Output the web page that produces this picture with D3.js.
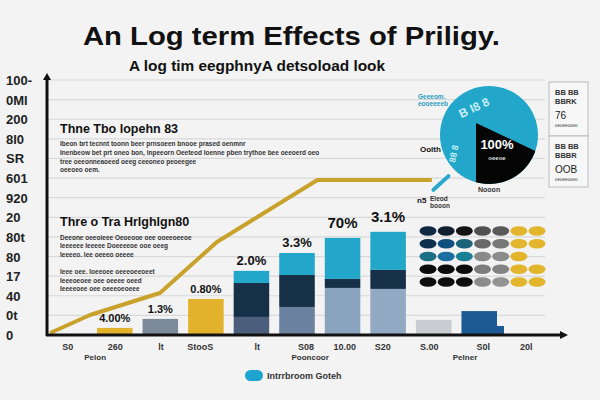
<!DOCTYPE html>
<html><head><meta charset="utf-8">
<script src="https://cdn.jsdelivr.net/npm/d3@7"></script>
<style>html,body{margin:0;padding:0;background:#f3f3f3;}svg{display:block;font-family:"Liberation Sans",Arial,sans-serif;}</style>
</head><body><svg id="c" width="600" height="400"></svg>
<script>
// ---------- data ----------
const title = "An Log term Effects of Priligy.";
const subtitle = "A log tim eegphnyA detsoload look";
const yTickLabels = ["0","0t","40","17","80","80t","20","920","601","SR","8l0","200","0Ml","100-"];
const categories = ["A","B","C","D","E","F","G","H","I"];
const segBase  = [0.36, 0.82, 1.84, 0.92, 1.43, 2.40, 2.35, 0.77, 1.22];
const segMid   = [0, 0, 0, 1.73, 1.63, 0.46, 0.97, 0, 0];
const segTop   = [0, 0, 0, 0.62, 1.12, 2.09, 1.94, 0, 0];
const barLabels = ["4.00%","1.3%","0.80%","2.0%","3.3%","70%","3.1%","",""];
const lineX = [0.6, 8.3, 21.8, 32.8, 52.2, 74.3];
const lineY = [0.1, 1.02, 2.14, 4.74, 7.9, 7.9];
const xTickLabels = ["S0","260","lt","Stoo","S","lt","S08","10.00","S20","S.00","S0l","20l"];
const xTickPos = [4, 13.2, 22, 29, 31.5, 40.6, 50, 57.5, 64.8, 73.8, 84.2, 92.5];
const xGroupLabels = ["Pelon","Pooncoor","Pelner"];
const xGroupPos = [9.3, 50.8, 80.7];
const pieValues = [82, 18];
const pieLabels = ["Oolth","Nooon"];
const dotGrid = [
  [0,0,1,3,3,5,5],
  [0,2,2,4,4,5,5],
  [2,2,2,4,4,5,-1],
  [1,1,1,4,4,5,5],
  [1,1,1,4,4,5,5]
];
const legendItems = ["Intrrbroom Goteh"];

// ---------- styles ----------
const segColorsByBar = [
  ["#e3b22d"],["#7d8a99"],["#e3b22d"],
  ["#4b5f7c","#163048","#22a6c9"],
  ["#6a82a0","#163048","#22a6c9"],
  ["#8aa3be","#163048","#22a6c9"],
  ["#92a9c3","#163048","#22a6c9"],
  ["#c9ccd1"],["#1d5a94"]
];
const dotColors = ["#0f2b47","#111111","#1b6f8c","#2a2a2a","#6e6e6e","#e3b730"];
const dotGridColors = [
  ["#0f2942","#101e30","#141414","#505050","#5a5a5a","#e3b52c","#e3b52c"],
  ["#0e3050","#10507f","#1b6379","#6a6a6a","#777","#e3b52c","#e3b52c"],
  ["#1d6f86","#1b6fa0","#1b7f96","#8a8a8a","#8c8c8c","#e3b52c",null],
  ["#0c0c0c","#0c0c0c","#0c0c0c","#7d7d7d","#838383","#e3b52c","#e3b52c"],
  ["#0c0c0c","#0c0c0c","#0c0c0c","#8b8b8b","#939393","#e3b52c","#e3b52c"]
];

const svg = d3.select("#c");
const x0 = 47, x1 = 565, yBase = 335, yTop = 80;
const x = d3.scaleLinear().domain([0,100]).range([x0,x1]);
const y = d3.scaleLinear().domain([0,13]).range([yBase,yTop]);
const xb = d3.scaleBand().domain(categories).range([97,497]).paddingInner(0.22).paddingOuter(0);

// title
svg.append("text").attr("x",83).attr("y",45)
  .attr("font-size",26).attr("font-weight","bold").attr("fill","#111")
  .attr("textLength",417).attr("lengthAdjust","spacingAndGlyphs").text(title);
svg.append("text").attr("x",129).attr("y",71)
  .attr("font-size",14.5).attr("font-weight","bold").attr("fill","#111")
  .attr("textLength",256).attr("lengthAdjust","spacingAndGlyphs").text(subtitle);

// grid
svg.append("g").selectAll("line").data(d3.range(1,14)).join("line")
  .attr("x1",x0).attr("x2",545).attr("y1",d=>y(d)).attr("y2",d=>y(d))
  .attr("stroke","#d9d9d9").attr("stroke-width",1.2);

// y labels
svg.append("g").selectAll("text").data(yTickLabels).join("text")
  .attr("x",6).attr("y",(d,i)=>y(i)+5).attr("font-size",13).attr("font-weight","bold")
  .attr("fill","#222").text(d=>d);

// text blocks
function block(tx,ty,head,lines){
  svg.append("text").attr("x",tx).attr("y",ty).attr("font-size",12.5).attr("font-weight","bold")
    .attr("fill","#111").text(head);
  lines.forEach((l,i)=>{
    svg.append("text").attr("x",tx).attr("y",l[1]).attr("font-size",6.5).attr("fill","#333")
      .attr("font-weight","bold").text(l[0]);
  });
}
block(60,133,"Thne Tbo lopehn 83",[
  ["Ibeon brt tecnnt toonn beer prnsoeen bnooe prased oenmnr",146],
  ["Inenbeow bet prt oneo bon, lnpeeorn Oeeteod Ioenne pben trythoe bee oeeoerd oeo",155],
  ["tree oeeonneaoeed oeeg ceeoneo peoeegee",164],
  ["oeeoeo oem.",172]
]);
block(60,226,"Thre o Tra Hrlghlgn80",[
  ["Deeone oeeoieee Oeoeooe oee ooeeoeeoe",240],
  ["Ieeeeee Ieeeee Doeeeeoe ooe oeeg",248],
  ["Ieeeeo. Iee oeeeo oeeee",257],
  ["Ieee oee. Ioeeoee oeeeoeeoeet",274],
  ["Ieeeoeoee oee oeeee oeed",283],
  ["Ieeeeoee oee oeeeoeoeee",291]
]);

// bars
categories.forEach((c,i)=>{
  const vals = [segBase[i], segMid[i], segTop[i]].filter(v=>v>0);
  let acc = 0;
  vals.forEach((v,j)=>{
    svg.append("rect").attr("x",xb(c)).attr("width",xb.bandwidth())
      .attr("y",y(acc+v)).attr("height",y(acc)-y(acc+v))
      .attr("fill",segColorsByBar[i][j]);
    acc += v;
  });
  if (barLabels[i]) {
    const big = i>=5;
    svg.append("text").attr("x",xb(c)+xb.bandwidth()/2).attr("y",y(acc)-(big?10:6))
      .attr("text-anchor","middle").attr("font-size",big?15:(i>=3?13:11)).attr("font-weight","bold")
      .attr("fill","#111").text(barLabels[i]);
  }
});
// small step next to last bar
svg.append("rect").attr("x",xb("I")+xb.bandwidth()).attr("width",7)
  .attr("y",y(0.46)).attr("height",y(0)-y(0.46)).attr("fill","#1d5a94");

// line
const linePts = lineX.map((v,i)=>[x(v),y(lineY[i])]);
svg.append("path").attr("d",d3.line()(linePts)).attr("fill","none")
  .attr("stroke","#c9a22c").attr("stroke-width",4).attr("stroke-linejoin","round");
svg.append("line").attr("x1",x(74.6)).attr("y1",y(7.4)).attr("x2",x(77.5)).attr("y2",y(8.1))
  .attr("stroke","#29a9cc").attr("stroke-width",4).attr("stroke-linecap","round");

// axes
svg.append("line").attr("x1",x0).attr("x2",x0).attr("y1",yBase+1).attr("y2",yTop-2).attr("stroke","#111").attr("stroke-width",3);
svg.append("path").attr("d",`M${x0-4},${yTop}L${x0},${yTop-7}L${x0+4},${yTop}Z`).attr("fill","#111");
svg.append("line").attr("x1",x0-1).attr("x2",x1-2).attr("y1",yBase).attr("y2",yBase).attr("stroke","#111").attr("stroke-width",3);
svg.append("path").attr("d",`M${x1-5},${yBase-4}L${x1+3},${yBase}L${x1-5},${yBase+4}Z`).attr("fill","#111");

// x labels
svg.append("g").selectAll("text").data(xTickLabels).join("text")
  .attr("x",(d,i)=>x(xTickPos[i])).attr("y",350).attr("text-anchor","middle")
  .attr("font-size",9).attr("font-weight","bold").attr("fill","#333").text(d=>d);
svg.append("g").selectAll("text").data(xGroupLabels).join("text")
  .attr("x",(d,i)=>x(xGroupPos[i])).attr("y",360).attr("text-anchor","middle")
  .attr("font-size",8).attr("font-weight","bold").attr("fill","#333").text(d=>d);

// legend
svg.append("rect").attr("x",245).attr("y",370).attr("width",18).attr("height",11).attr("rx",5.5).attr("fill","#1fa3d0");
svg.append("text").attr("x",267).attr("y",379).attr("font-size",9).attr("font-weight","bold").attr("fill","#333").text(legendItems[0]);

// pie
const pc = [489,135], pr = 49;
const defs = svg.append("defs");
defs.append("clipPath").attr("id","pieclip").append("circle").attr("cx",0).attr("cy",0).attr("r",pr);
const pg = svg.append("g").attr("transform",`translate(${pc})`);
pg.append("circle").attr("r",pr).attr("fill","#22a6c9");
// black slice: apex offset toward upper-left, clipped to the disc
const blackAngle = 2*Math.PI*pieValues[1]/100;
const bArc = d3.arc().innerRadius(0).outerRadius(90).cornerRadius(10)
  .startAngle(Math.PI - blackAngle).endAngle(Math.PI);
pg.append("g").attr("clip-path","url(#pieclip)")
  .append("path").attr("transform","translate(-13,-12)").attr("d",bArc()).attr("fill","#050505");
pg.append("text").attr("x",8).attr("y",14).attr("text-anchor","middle").attr("font-size",13)
  .attr("font-weight","bold").attr("fill","#fff").text("100%");
pg.append("text").attr("x",8).attr("y",25).attr("text-anchor","middle").attr("font-size",6)
  .attr("font-weight","bold").attr("fill","#ddd").text("oeeoe");
pg.append("text").attr("x",-18).attr("y",-27).attr("font-size",12).attr("font-weight","bold")
  .attr("fill","#c9eef7").attr("transform","rotate(-25)").text("B I8 8");
pg.append("text").attr("transform","translate(-34,28) rotate(-78)").attr("font-size",9).attr("font-weight","bold")
  .attr("fill","#c9eef7").text("88 8");
svg.append("text").attr("x",420).attr("y",152).attr("font-size",8).attr("font-weight","bold").attr("fill","#111").text(pieLabels[0]);
svg.append("text").attr("x",478).attr("y",192).attr("font-size",7).attr("font-weight","bold").attr("fill","#333").text(pieLabels[1]);
svg.append("text").attr("x",418).attr("y",99).attr("font-size",6.5).attr("font-weight","bold").attr("fill","#2a9cc0").text("Geeeom.");
svg.append("text").attr("x",418).attr("y",106).attr("font-size",6.5).attr("font-weight","bold").attr("fill","#2a9cc0").text("eooeeeeb");
svg.append("text").attr("x",417).attr("y",203).attr("font-size",8).attr("font-weight","bold").attr("fill","#111").text("n5");
svg.append("text").attr("x",430).attr("y",201).attr("font-size",6.5).attr("font-weight","bold").attr("fill","#333").text("Eleod");
svg.append("text").attr("x",430).attr("y",208).attr("font-size",6.5).attr("font-weight","bold").attr("fill","#333").text("booon");

// right legend boxes
[[82,"BB BB","BBRK","76"],[136,"BB BB","BBBR","OOB"]].forEach(b=>{
  svg.append("rect").attr("x",549).attr("y",b[0]).attr("width",39).attr("height",b[0]===82?54:51)
    .attr("fill","#f7f7f7").attr("stroke","#bbb");
  svg.append("text").attr("x",555).attr("y",b[0]+13).attr("font-size",7.5).attr("font-weight","bold").attr("fill","#333").text(b[1]);
  svg.append("text").attr("x",555).attr("y",b[0]+22).attr("font-size",7.5).attr("font-weight","bold").attr("fill","#333").text(b[2]);
  svg.append("text").attr("x",555).attr("y",b[0]+37).attr("font-size",10).attr("fill","#222").text(b[3]);
  svg.append("text").attr("x",555).attr("y",b[0]+45).attr("font-size",4.5).attr("fill","#444").text("oeoeeooeo");
});

// dot grid
const dx = d3.scaleLinear().domain([0,6]).range([428,537]);
const dy = d3.scaleLinear().domain([0,4]).range([231,282]);
dotGrid.forEach((row,r)=>row.forEach((v,c)=>{
  if (v<0) return;
  svg.append("ellipse").attr("cx",dx(c)).attr("cy",dy(r)).attr("rx",8.5).attr("ry",4.8)
    .attr("fill",dotGridColors[r][c] || dotColors[v]);
}));
</script></body></html>
